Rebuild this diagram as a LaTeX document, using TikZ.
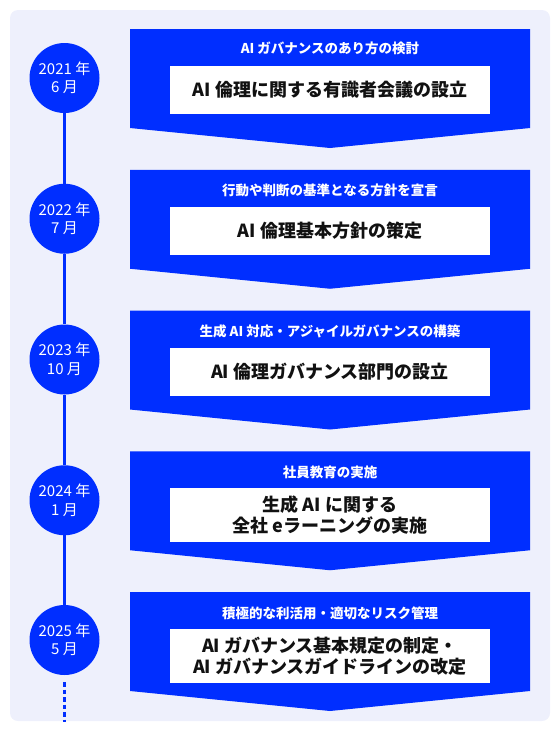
\documentclass[tikz,border=0pt]{standalone}
\usepackage{fontspec}
\setmainfont{Noto Sans CJK JP}
\definecolor{tlblue}{RGB}{0,46,255}
\definecolor{tlbg}{RGB}{238,240,252}
\definecolor{tlink}{RGB}{17,17,17}
\begin{document}
\begin{tikzpicture}[x=1pt,y=-1pt,
  panel/.style={fill=tlbg,rounded corners=8pt},
  arrowbox/.style={fill=tlblue},
  datecircle/.style={circle,fill=tlblue,minimum size=70pt,inner sep=0pt,text=white,align=center,
    font=\fontsize{15}{18.5}\selectfont},
  titletext/.style={text=white,font=\bfseries\fontsize{13.5}{16}\selectfont,inner sep=0pt},
  whitebox/.style={fill=white,minimum width=320pt,inner sep=0pt,text=tlink,align=center,
    font=\bfseries\fontsize{18}{20.5}\selectfont},
  tlline/.style={draw=tlblue,line width=3pt},
  dotline/.style={draw=tlblue,line width=3pt,dash pattern=on 4.5pt off 3pt}
]
\useasboundingbox (0,0) rectangle (560,740);
\fill[panel] (10,10) rectangle (550,721);

% arrow-shaped boxes
\foreach \t in {29,169.75,310.5,451.25,592}{
  \fill[arrowbox] (130,\t) -- (530,\t) -- (530,\t+99) -- (330,\t+119) -- (130,\t+99) -- cycle;
}

% titles
\node[titletext] (t1) at (330,48) {AI ガバナンスのあり方の検討};
\node[titletext] (t2) at (330,190.75) {行動や判断の基準となる方針を宣言};
\node[titletext] (t3) at (330,331.5) {生成 AI 対応・アジャイルガバナンスの構築};
\node[titletext] (t4) at (330,472.25) {社員教育の実施};
\node[titletext] (t5) at (330,613) {積極的な利活用・適切なリスク管理};

% white boxes
\node[whitebox,minimum height=48pt] (b1) at (330,90) {AI 倫理に関する有識者会議の設立};
\node[whitebox,minimum height=48pt] (b2) at (330,230.75) {AI 倫理基本方針の策定};
\node[whitebox,minimum height=48pt] (b3) at (330,371.5) {AI 倫理ガバナンス部門の設立};
\node[whitebox,minimum height=54pt] (b4) at (330,515.25) {生成 AI に関する\\全社 eラーニングの実施};
\node[whitebox,minimum height=54pt] (b5) at (330,656) {AI ガバナンス基本規定の制定・\\AI ガバナンスガイドラインの改定};

% date circles
\node[datecircle] (c1) at (64.5,78) {2021 年\\6 月};
\node[datecircle] (c2) at (64.5,218.75) {2022 年\\7 月};
\node[datecircle] (c3) at (64.5,359.5) {2023 年\\10 月};
\node[datecircle] (c4) at (64.5,500.25) {2024 年\\1 月};
\node[datecircle] (c5) at (64.5,640) {2025 年\\5 月};

% timeline
\draw[tlline] (c1) -- (c2);
\draw[tlline] (c2) -- (c3);
\draw[tlline] (c3) -- (c4);
\draw[tlline] (c4) -- (c5);
\coordinate (tlend) at (64.5,722);
\coordinate (tlstart) at (64.5,682);
\draw[dotline] (tlstart) -- (tlend);
\end{tikzpicture}
\end{document}
